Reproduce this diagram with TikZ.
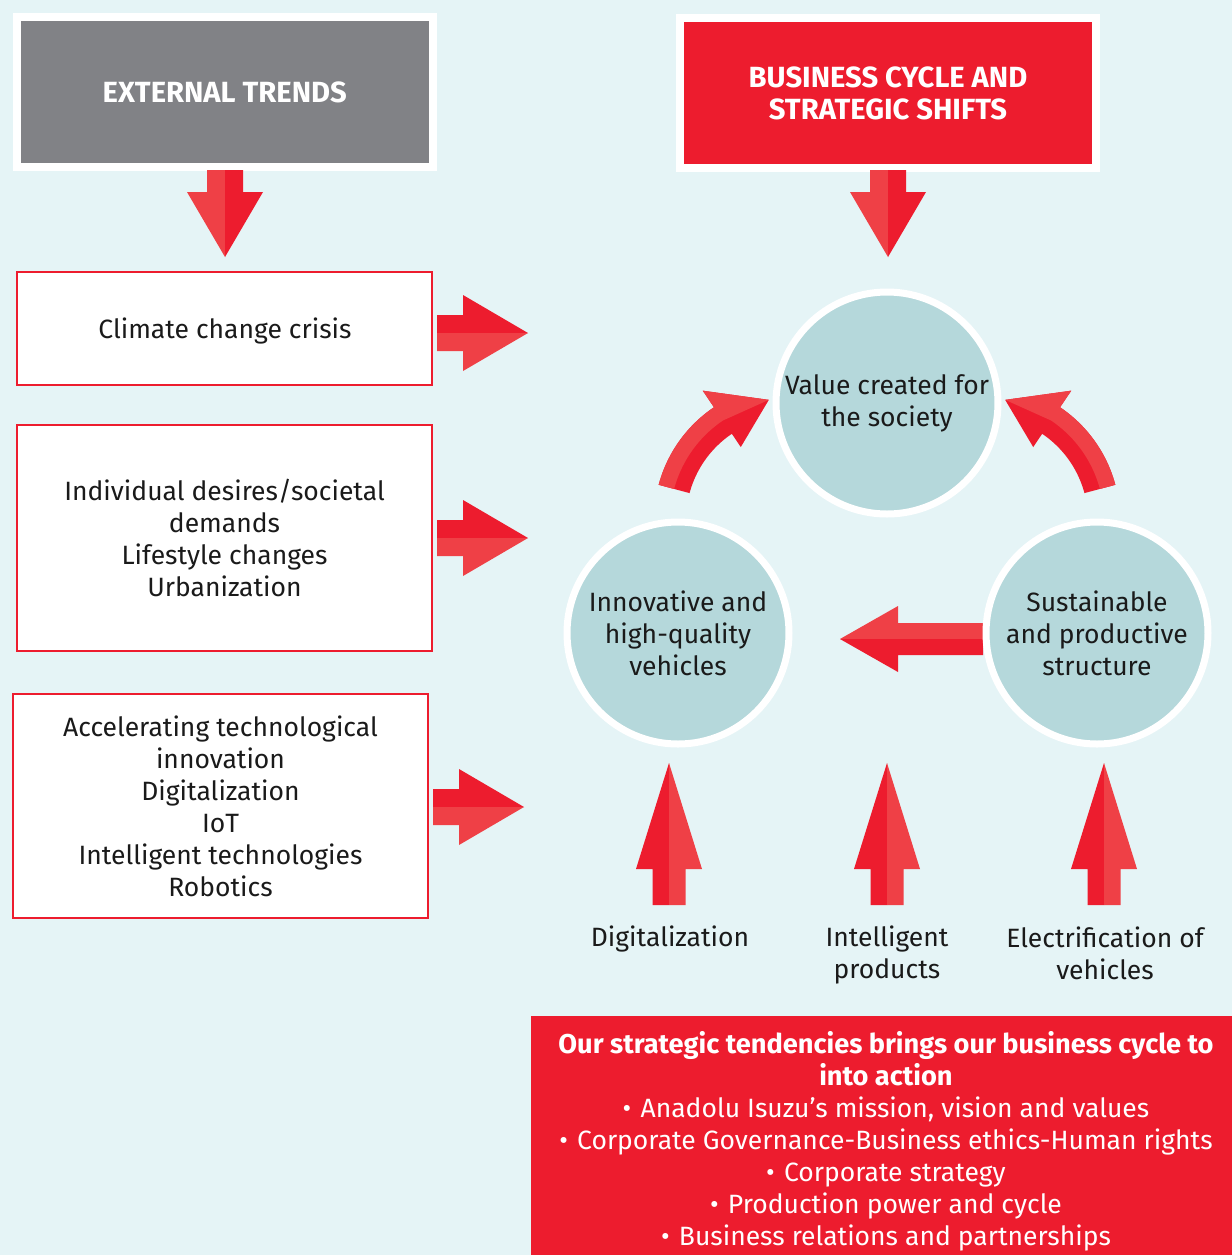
\documentclass[tikz,border=0pt]{standalone}
\usepackage{fontspec}
\setmainfont{Fira Sans}
\definecolor{bg}{HTML}{E5F4F6}
\definecolor{dred}{HTML}{ED1C2E}
\definecolor{lred}{HTML}{EF4046}
\definecolor{greybox}{HTML}{818286}
\definecolor{cfill}{HTML}{B5D8DB}
\definecolor{txt}{HTML}{1A1A1A}
\newcommand{\ArrDown}[2]{%
 \fill[lred] ({#1-18},#2) -- (#1,#2) -- (#1,{#2+87}) -- ({#1-38},{#2+22}) -- ({#1-18},{#2+22}) -- cycle;
 \fill[dred] (#1,#2) -- ({#1+18},#2) -- ({#1+18},{#2+22}) -- ({#1+38},{#2+22}) -- (#1,{#2+87}) -- cycle;}
\newcommand{\ArrRight}[2]{%
 \fill[dred] (#1,{#2-18}) -- ({#1+26},{#2-18}) -- ({#1+26},{#2-38}) -- ({#1+91},#2) -- (#1,#2) -- cycle;
 \fill[lred] (#1,#2) -- ({#1+91},#2) -- ({#1+26},{#2+38}) -- ({#1+26},{#2+18}) -- (#1,{#2+18}) -- cycle;}
\newcommand{\ArrUp}[1]{%
 \fill[dred] (#1,763) -- (#1,905) -- ({#1-16.5},905) -- ({#1-16.5},869) -- ({#1-33},869) -- cycle;
 \fill[lred] (#1,763) -- ({#1+33},869) -- ({#1+16.5},869) -- ({#1+16.5},905) -- (#1,905) -- cycle;}
\newcommand{\bul}{•\hspace{0.35em}}
\begin{document}
\begin{tikzpicture}[x=0.5pt,y=-0.5pt,
  every node/.style={font=\fontsize{13.25}{16}\selectfont, text=txt, align=center, inner sep=0pt},
  header/.style={draw=white, line width=4pt, minimum width=207.75pt, minimum height=75pt, text=white, font=\fontsize{14.6}{16}\selectfont\bfseries},
  trendbox/.style={draw=dred, fill=white, line width=1pt, minimum width=207.5pt},
  bubble/.style={circle, fill=cfill, draw=white, line width=3.5pt, minimum size=111pt}]
\fill[bg] (0,0) rectangle (1232,1255);
\useasboundingbox (0,0) rectangle (1232,1255);

% headers
\node[header, fill=greybox] (ext) at (224.75,92) {EXTERNAL TRENDS};
\node[header, fill=dred] (bus) at (888,93) {BUSINESS CYCLE AND\\STRATEGIC SHIFTS};

% trend boxes
\node[trendbox, minimum height=56.5pt] (t1) at (224.5,328.5) {};
\node (t1t) at (225,331) {Climate change crisis};
\node[trendbox, minimum height=113pt] (t2) at (224.5,538) {Individual desires/societal\\demands\\Lifestyle changes\\Urbanization};
\node[trendbox, minimum height=112pt] (t3) at (220.5,806) {Accelerating technological\\innovation\\Digitalization\\IoT\\Intelligent technologies\\Robotics};

% straight block arrows
\ArrDown{225}{170}
\ArrDown{888}{170}
\ArrRight{437}{333}
\ArrRight{437}{538}
\ArrRight{433}{807}
\fill[lred] (983,623) -- (898,623) -- (898,606) -- (840,639) -- (983,639) -- cycle;
\fill[dred] (983,639) -- (840,639) -- (898,672) -- (898,655) -- (983,655) -- cycle;
\ArrUp{669}
\ArrUp{887}
\ArrUp{1104}

% curved arrows
\begin{scope}[shift={(790,520)}]
\fill[dred] plot[domain=195:236,samples=25] (\x:136) -- (236:156) -- (260:122) -- (236:88) -- (236:104) -- plot[domain=236:195,samples=25] (\x:104) -- cycle;
\fill[lred] plot[domain=195:236,samples=25] (\x:136) -- (236:156) -- (260:122) -- (236:120) -- plot[domain=236:195,samples=25] (\x:120) -- cycle;
\end{scope}
\begin{scope}[shift={(984,520)}]
\fill[dred] plot[domain=-15:-56,samples=25] (\x:136) -- (-56:156) -- (-80:122) -- (-56:88) -- (-56:104) -- plot[domain=-56:-15,samples=25] (\x:104) -- cycle;
\fill[lred] plot[domain=-15:-56,samples=25] (\x:136) -- (-56:156) -- (-80:122) -- (-56:120) -- plot[domain=-56:-15,samples=25] (\x:120) -- cycle;
\end{scope}

% circles
\node[bubble] (value) at (887,403) {Value created for\\the society};
\node[bubble] (innov) at (678,633) {Innovative and\\high-quality\\vehicles};
\node[bubble] (sust) at (1097,633) {Sustainable\\and productive\\structure};

% labels
\node (l1) at (670,939) {Digitalization};
\node (l2) at (887,955) {Intelligent\\products};
\node (l3) at (1105,953) {Electrification of\\vehicles};

% strategy box
\node[fill=dred, minimum width=350.5pt, minimum height=119.5pt] (strat) at (881.5,1135.5) {};
\node[text=white] (stext) at (886,1141) {{\fontsize{13.6}{16}\selectfont\bfseries Our strategic tendencies brings our business cycle to}\\{\fontsize{13.6}{16}\selectfont\bfseries into action}\\\bul Anadolu Isuzu’s mission, vision and values\\\bul Corporate Governance-Business ethics-Human rights\\\bul Corporate strategy\\\bul Production power and cycle\\\bul Business relations and partnerships};
\end{tikzpicture}
\end{document}
